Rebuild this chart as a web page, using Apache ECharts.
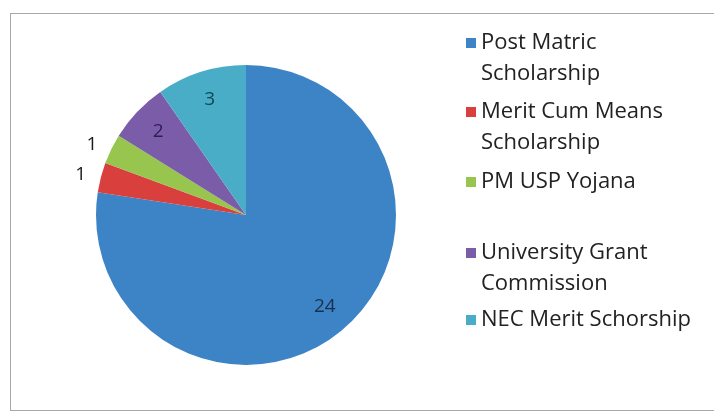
<!DOCTYPE html>
<html>
<head>
<meta charset="utf-8">
<script src="https://cdn.jsdelivr.net/npm/echarts@6/dist/echarts.min.js"></script>
<style>
html,body{margin:0;padding:0;background:#fff;}
#frame{position:absolute;left:10px;top:13px;width:720px;height:396px;border:1px solid #a8a8a8;border-right:none;}
#chart{position:absolute;left:0;top:0;width:714px;height:413px;}
</style>
</head>
<body>
<div id="frame"></div>
<div id="chart"></div>
<script>
// Data
const categories = ['Post Matric Scholarship', 'Merit Cum Means Scholarship', 'PM USP Yojana', 'University Grant Commission', 'NEC Merit Schorship'];
const legendText = ['Post Matric\nScholarship', 'Merit Cum Means\nScholarship', 'PM USP Yojana', 'University Grant\nCommission', 'NEC Merit Schorship'];
const values = [24, 1, 1, 2, 3];

// Styles
const colors = ['#3d84c6', '#d9403d', '#97c54e', '#7a5ca8', '#4aadc8'];
const labelColors = ['#17304f', '#1a1a1a', '#1a1a1a', '#2a1f52', '#0d4a52'];
const legendCenters = [43, 112, 182, 253, 320];
const LH = 31;

const chart = echarts.init(document.getElementById('chart'));

const mainData = categories.map((n, i) => ({
  name: n, value: values[i],
  itemStyle: { color: colors[i] },
  label: { color: labelColors[i] }
}));
const labelData = categories.map((n, i) => ({
  name: n, value: values[i],
  label: { color: labelColors[i] }
}));

const fontFamily = '"Open Sans", "Noto Sans", sans-serif';
// icon square sits at top of a taller (invisible) box so that it aligns with the first text line
const twoLineH = LH + 10;
const topSquareIcon = 'path://M0,0L10,0L10,10L0,10Z M0,' + twoLineH + 'L0.01,' + twoLineH;

const legends = categories.map((n, i) => {
  const twoLine = legendText[i].indexOf('\n') >= 0;
  return {
    data: [n],
    left: 461,
    top: legendCenters[i] - LH / 2 - 5,
    icon: twoLine ? topSquareIcon : 'rect',
    itemWidth: 10,
    itemHeight: twoLine ? twoLineH : 10,
    selectedMode: false,
    formatter: () => legendText[i],
    textStyle: {
      fontFamily: fontFamily,
      fontSize: 22,
      color: '#222',
      lineHeight: LH
    }
  };
});

chart.setOption({
  animation: false,
  backgroundColor: 'transparent',
  legend: legends,
  series: [
    {
      type: 'pie',
      center: [246, 215],
      radius: [0, 150],
      startAngle: 90,
      clockwise: true,
      data: mainData,
      label: {
        show: true,
        position: 'outside',
        fontFamily: fontFamily,
        fontSize: 19,
        formatter: p => (p.value <= 1 ? String(p.value) : '')
      },
      labelLine: { show: false, length: 10, length2: 0 },
      emphasis: { disabled: true }
    },
    {
      type: 'pie',
      center: [246, 215],
      radius: [86, 150],
      startAngle: 90,
      clockwise: true,
      silent: true,
      legendHoverLink: false,
      data: labelData,
      itemStyle: { color: 'rgba(0,0,0,0)' },
      label: {
        show: true,
        position: 'inside',
        fontFamily: fontFamily,
        fontSize: 19,
        formatter: p => (p.value > 1 ? String(p.value) : '')
      },
      labelLine: { show: false },
      emphasis: { disabled: true }
    }
  ]
});
</script>
</body>
</html>
